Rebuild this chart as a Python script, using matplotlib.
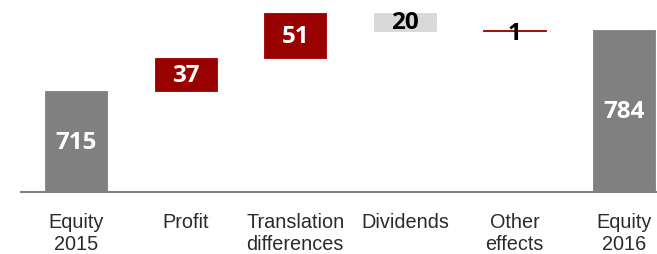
import numpy as np
import matplotlib
matplotlib.use("Agg")
import matplotlib.pyplot as plt

# ── Data ──────────────────────────────────────────────
categories = ["Equity\n2015", "Profit", "Translation\ndifferences",
              "Dividends", "Other\neffects", "Equity\n2016"]
values = [715, 37, 51, -20, 1, 784]
is_total = [True, False, False, False, False, True]

GREY = "#808080"
RED = "#990000"
LIGHT = "#d9d9d9"
Y_MIN, Y_MAX = 601.8, 818.9

# waterfall bottoms / heights
bottoms, heights, colors, label_colors = [], [], [], []
running = 0
for v, tot in zip(values, is_total):
    if tot:
        bottoms.append(0)
        heights.append(v)
        colors.append(GREY)
        label_colors.append("white")
        running = v
    else:
        if v >= 0:
            bottoms.append(running)
            heights.append(v)
            colors.append(RED)
            label_colors.append("white" if v > 5 else "black")
        else:
            bottoms.append(running + v)
            heights.append(-v)
            colors.append(LIGHT)
            label_colors.append("black")
        running += v

fig = plt.figure(figsize=(6.57, 2.55), dpi=100)
ax = fig.add_axes([21 / 657, 62 / 255, 636 / 657, 193 / 255])

x = np.arange(len(categories))
ax.bar(x, heights, bottom=bottoms, width=0.566, color=colors,
       edgecolor=colors, linewidth=0.6)

ax.set_xlim(-0.502, 5.30)
ax.set_ylim(Y_MIN, Y_MAX)

for xi, b, h, v, c in zip(x, bottoms, heights, values, label_colors):
    lo = max(b, Y_MIN)
    yc = (lo + b + h) / 2
    if h < 3:
        yc -= 3
    ax.text(xi, yc, f"{abs(v)}", ha="center", va="center",
            color=c, fontsize=17.5, fontweight="bold", family="Open Sans")

for s in ["top", "right", "left"]:
    ax.spines[s].set_visible(False)
ax.spines["bottom"].set_color(GREY)
ax.spines["bottom"].set_linewidth(1.5)
ax.set_yticks([])
ax.set_xticks(x)
ax.set_xticklabels(categories, fontsize=14.3, family="Liberation Sans",
                   color="#2b2b2b", linespacing=1.17)
ax.tick_params(axis="x", length=0, pad=14.5)

fig.savefig("out.png", dpi=100)
